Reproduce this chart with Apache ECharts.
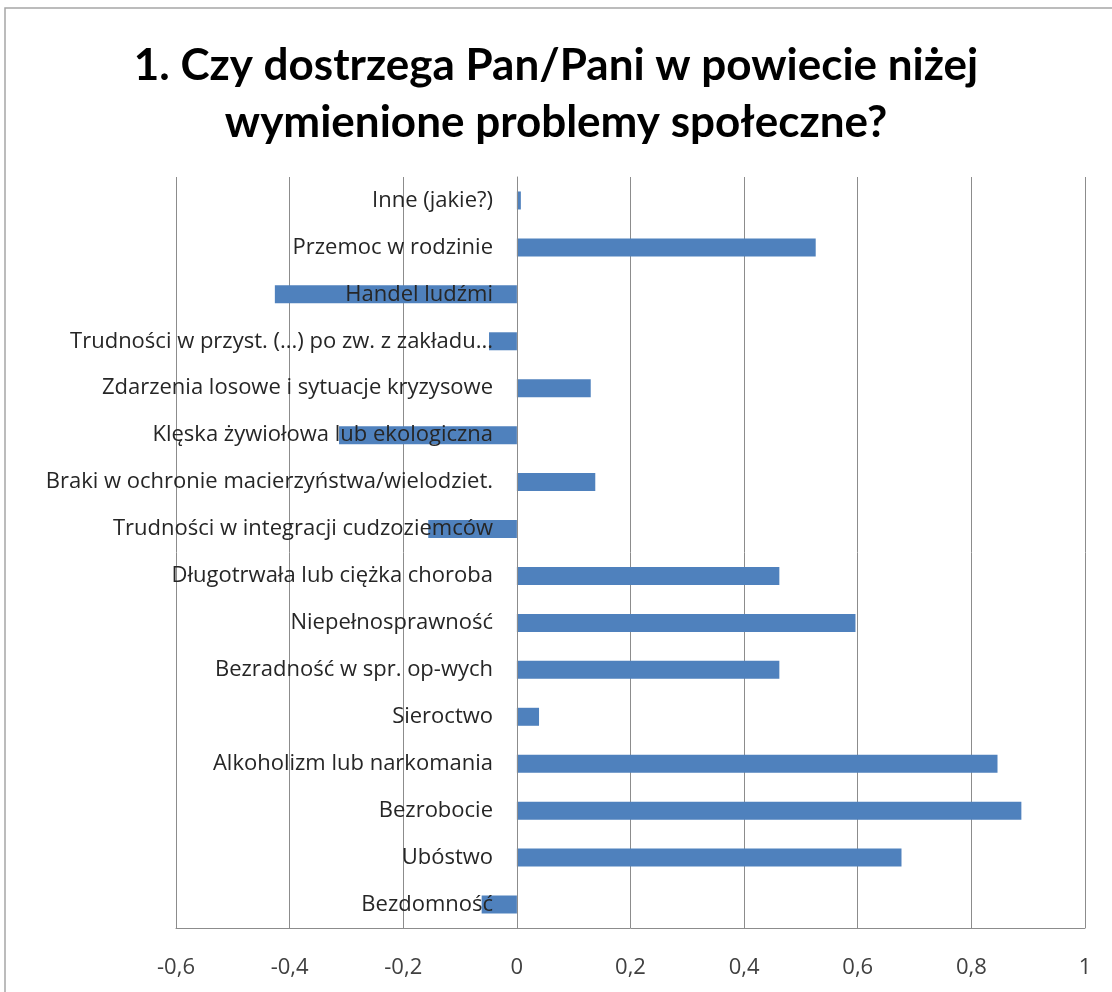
<!DOCTYPE html>
<html>
<head>
<meta charset="utf-8">
<script src="https://cdn.jsdelivr.net/npm/echarts@6/dist/echarts.min.js"></script>
<style>
  html, body { margin: 0; padding: 0; background: #fff; }
  #chart { width: 1112px; height: 992px; }
</style>
</head>
<body>
<div id="chart"></div>
<script>
// categories listed bottom to top (category axis starts at the bottom)
const categories = [
  'Bezdomność',
  'Ubóstwo',
  'Bezrobocie',
  'Alkoholizm lub narkomania',
  'Sieroctwo',
  'Bezradność w spr. op-wych',
  'Niepełnosprawność',
  'Długotrwała lub ciężka choroba',
  'Trudności w integracji cudzoziemców',
  'Braki w ochronie macierzyństwa/wielodziet.',
  'Klęska żywiołowa lub ekologiczna',
  'Zdarzenia losowe i sytuacje kryzysowe',
  'Trudności w przyst. (...) po zw. z zakładu...',
  'Handel ludźmi',
  'Przemoc w rodzinie',
  'Inne (jakie?)'
];

const values = [
  -0.062, 0.677, 0.888, 0.846, 0.039, 0.462, 0.596, 0.462,
  -0.156, 0.138, -0.313, 0.130, -0.049, -0.426, 0.526, 0.007
];

const titleText = '1. Czy dostrzega Pan/Pani w powiecie niżej\nwymienione problemy społeczne?';

const chart = echarts.init(document.getElementById('chart'));

const options = {
  animation: false,
  title: {
    text: titleText,
    left: 'center',
    top: 32,
    textStyle: {
      fontFamily: 'Lato',
      fontWeight: 'bold',
      fontSize: 44,
      lineHeight: 57,
      color: '#000'
    }
  },
  graphic: [{
    type: 'rect',
    shape: { x: 5, y: 8, width: 1120, height: 1000 },
    style: { fill: 'none', stroke: '#a6a6a6', lineWidth: 1.5 }
  }],
  grid: {
    left: 176,
    right: 27,
    top: 177,
    bottom: 64,
    outerBoundsMode: 'none',
    containLabel: false
  },
  xAxis: {
    type: 'value',
    min: -0.6,
    max: 1,
    interval: 0.2,
    axisLine: { show: true, lineStyle: { color: '#8c8c8c', width: 1 } },
    axisTick: { show: false },
    splitLine: { show: true, lineStyle: { color: '#8c8c8c', width: 1 } },
    axisLabel: {
      margin: 29,
      fontFamily: 'Open Sans',
      fontSize: 22,
      color: '#404040',
      formatter: v => String(Math.round(v * 10) / 10).replace('.', ',')
    }
  },
  yAxis: {
    type: 'category',
    data: categories,
    z: 5,
    // shift the category axis from the grid's left edge to the zero line
    offset: -341,
    axisLine: { show: true, onZero: false, lineStyle: { color: '#8c8c8c', width: 1 } },
    axisTick: { show: false },
    axisLabel: {
      margin: 24,
      fontFamily: 'Open Sans',
      fontSize: 22,
      color: '#262626'
    }
  },
  series: [{
    type: 'bar',
    data: values,
    barWidth: 18,
    itemStyle: { color: '#4f81bd' }
  }]
};

chart.setOption(options);
</script>
</body>
</html>
